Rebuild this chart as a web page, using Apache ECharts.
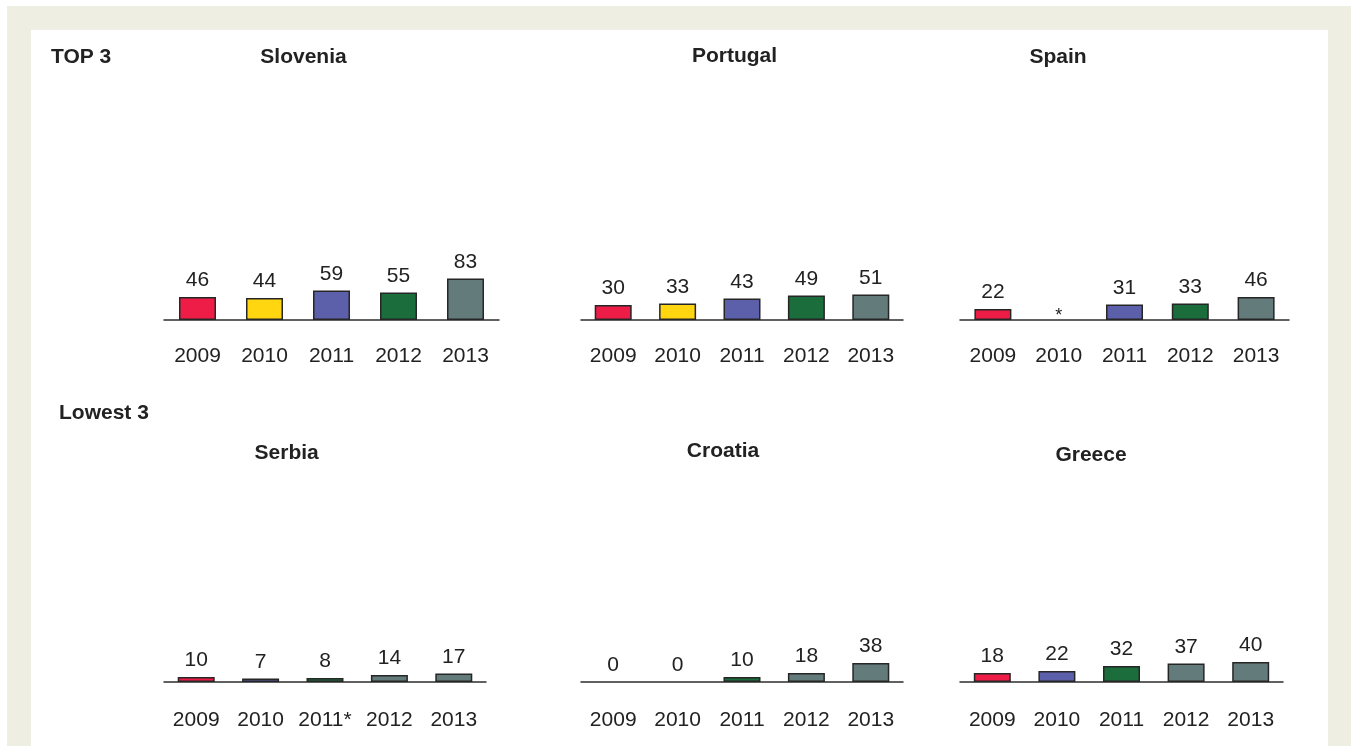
<!DOCTYPE html>
<html>
<head>
<meta charset="utf-8">
<script src="https://cdn.jsdelivr.net/npm/echarts@6/dist/echarts.min.js"></script>
<style>
  html, body { margin: 0; padding: 0; background: #ffffff; }
  #chart { width: 1354px; height: 746px; }
</style>
</head>
<body>
<div id="chart"></div>
<script>
// ---- data ----
const years = ['2009', '2010', '2011', '2012', '2013'];
const serbiaYears = ['2009', '2010', '2011*', '2012', '2013'];

const sloveniaValues = [46, 44, 59, 55, 83];
const portugalValues = [30, 33, 43, 49, 51];
const spainValues = [22, null, 31, 33, 46];   // 2010: no data (*)
const serbiaValues = [10, 7, 8, 14, 17];
const croatiaValues = [0, 0, 10, 18, 38];
const greeceValues = [18, 22, 32, 37, 40];

const groupHeadings = ['TOP 3', 'Lowest 3'];
const countryNames = ['Slovenia', 'Portugal', 'Spain', 'Serbia', 'Croatia', 'Greece'];
const panelCategories = [years, years, years, serbiaYears, years, years];
const panelValues = [sloveniaValues, portugalValues, spainValues, serbiaValues, croatiaValues, greeceValues];

// ---- styles ----
const palette = {
  red: '#ee1d48',
  yellow: '#ffd60f',
  purple: '#5c5fa9',
  green: '#1b6d3b',
  gray: '#647b7b'
};
const panelTones = [
  ['red', 'yellow', 'purple', 'green', 'gray'],
  ['red', 'yellow', 'purple', 'green', 'gray'],
  ['red', 'yellow', 'purple', 'green', 'gray'],
  ['red', 'purple', 'green', 'gray', 'gray'],
  ['red', 'purple', 'green', 'gray', 'gray'],
  ['red', 'purple', 'green', 'gray', 'gray']
];
const FONT = '"Liberation Sans", Arial, Helvetica, sans-serif';
const INK = '#222222';

// ---- layout ----
const PX_PER_UNIT = 0.5;
const Y_MAX = 200;
const plotHeight = Y_MAX * PX_PER_UNIT;
const panelBoxes = [
  { left: 164, width: 335, base: 320, labelMargin: 26, titleX: 303.5, titleY: 57 },
  { left: 581, width: 322, base: 320, labelMargin: 26, titleX: 734.5, titleY: 56 },
  { left: 960, width: 329, base: 320, labelMargin: 26, titleX: 1058, titleY: 57 },
  { left: 164, width: 322, base: 682, labelMargin: 28, titleX: 286.7, titleY: 453 },
  { left: 581, width: 322, base: 682, labelMargin: 28, titleX: 723, titleY: 451 },
  { left: 960, width: 323, base: 682, labelMargin: 28, titleX: 1091, titleY: 455 }
];
const headingPos = [
  { x: 51, y: 57 },
  { x: 59, y: 413 }
];

const grids = [], xAxes = [], yAxes = [], series = [];

panelBoxes.forEach((box, i) => {
  grids.push({
    left: box.left,
    width: box.width,
    top: box.base - plotHeight,
    height: plotHeight,
    containLabel: false
  });
  xAxes.push({
    type: 'category',
    gridIndex: i,
    data: panelCategories[i],
    boundaryGap: true,
    axisLine: { show: true, lineStyle: { color: '#2e2e2e', width: 1.5 } },
    axisTick: { show: false },
    axisLabel: { fontSize: 21, fontFamily: FONT, color: INK, margin: box.labelMargin, interval: 0 },
    splitLine: { show: false }
  });
  yAxes.push({
    type: 'value',
    gridIndex: i,
    min: 0,
    max: Y_MAX,
    show: false,
    splitLine: { show: false }
  });
  series.push({
    type: 'bar',
    xAxisIndex: i,
    yAxisIndex: i,
    barWidth: 37,
    animation: false,
    label: {
      show: true,
      position: 'top',
      distance: 6,
      fontSize: 21,
      fontFamily: FONT,
      color: INK
    },
    itemStyle: { borderColor: '#262626', borderWidth: 1.5 },
    data: panelValues[i].map((v, j) => {
      const color = palette[panelTones[i][j]];
      if (v === null) {
        return {
          value: 0,
          itemStyle: { color: 'transparent', borderWidth: 0 },
          label: { formatter: '*', fontSize: 18, distance: -5 }
        };
      }
      if (v === 0) {
        return { value: 0, itemStyle: { color: 'transparent', borderWidth: 0 } };
      }
      return { value: v, itemStyle: { color: color } };
    })
  });
});

const graphics = [
  // frame
  { type: 'rect', z: -100, silent: true, shape: { x: 7, y: 6, width: 1344, height: 740 }, style: { fill: '#efeee2' } },
  { type: 'rect', z: -99, silent: true, shape: { x: 31, y: 30, width: 1297, height: 716 }, style: { fill: '#ffffff' } }
];
groupHeadings.forEach((t, i) => {
  graphics.push({
    type: 'text', x: headingPos[i].x, y: headingPos[i].y, silent: true,
    style: { text: t, fill: INK, font: 'bold 21px ' + FONT, align: 'left', verticalAlign: 'middle' }
  });
});
countryNames.forEach((t, i) => {
  graphics.push({
    type: 'text', x: panelBoxes[i].titleX, y: panelBoxes[i].titleY, silent: true,
    style: { text: t, fill: INK, font: 'bold 21px ' + FONT, align: 'center', verticalAlign: 'middle' }
  });
});

const chart = echarts.init(document.getElementById('chart'), null, { renderer: 'canvas' });
chart.setOption({
  animation: false,
  backgroundColor: '#ffffff',
  grid: grids,
  xAxis: xAxes,
  yAxis: yAxes,
  series: series,
  graphic: graphics
});
</script>
</body>
</html>
